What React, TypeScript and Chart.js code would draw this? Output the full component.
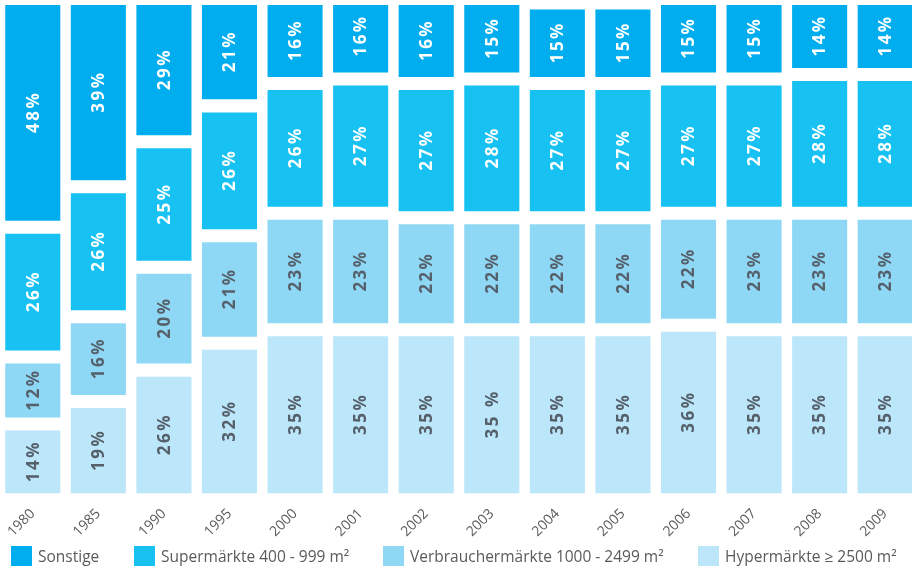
import React, { useEffect, useRef } from "react";
import { Chart, registerables } from "chart.js";

Chart.register(...registerables);

const years = ["1980", "1985", "1990", "1995", "2000", "2001", "2002", "2003", "2004", "2005", "2006", "2007", "2008", "2009"];
const sonstige = [48, 39, 29, 21, 16, 16, 16, 15, 15, 15, 15, 15, 14, 14];
const supermaerkte = [26, 26, 25, 26, 26, 27, 27, 28, 27, 27, 27, 27, 28, 28];
const verbrauchermaerkte = [12, 16, 20, 21, 23, 23, 22, 22, 22, 22, 22, 23, 23, 23];
const hypermaerkte = [14, 19, 26, 32, 35, 35, 35, 35, 35, 35, 36, 35, 35, 35];
// the source prints one label with a space before the percent sign
const hyperLabelSeparators = ["", "", "", "", "", "", "", " ", "", "", "", "", "", ""];

const seriesLabels = ["Sonstige", "Supermärkte 400 - 999 m²", "Verbrauchermärkte 1000 - 2499 m²", "Hypermärkte ≥ 2500 m²"];
const seriesColors = ["#00aeef", "#17c2f2", "#8ed8f6", "#bce6f9"];
const labelColors = ["#ffffff", "#ffffff", "#56606a", "#56606a"];

const GAP = 2.9; // gap between segments, in value units

export default function App() {
  const ref = useRef<HTMLCanvasElement>(null);
  useEffect(() => {
    const bottomUp = [hypermaerkte, verbrauchermaerkte, supermaerkte, sonstige];
    const ranges: [number, number][][] = bottomUp.map(() => []);
    years.forEach((_, i) => {
      let cum = 0;
      bottomUp.forEach((arr, s) => {
        const lo = cum + s * GAP;
        ranges[s].push([lo, lo + arr[i]]);
        cum += arr[i];
      });
    });
    const values = [sonstige, supermaerkte, verbrauchermaerkte, hypermaerkte];
    const datasets = [3, 2, 1, 0].map((s, k) => ({
      label: seriesLabels[k],
      data: ranges[s],
      backgroundColor: seriesColors[k],
      borderWidth: 0,
      categoryPercentage: 1,
      barPercentage: 0.84,
    }));

    const labelPlugin = {
      id: "segLabels",
      afterDatasetsDraw(chart: any) {
        const ctx = chart.ctx;
        chart.data.datasets.forEach((_: any, di: number) => {
          const meta = chart.getDatasetMeta(di);
          meta.data.forEach((el: any, i: number) => {
            const cy = (el.y + el.base) / 2;
            const sep = di === 3 ? hyperLabelSeparators[i] : "";
            ctx.save();
            ctx.translate(el.x, cy);
            ctx.rotate(-Math.PI / 2);
            ctx.font = "bold 17px 'Open Sans'";
            (ctx as any).letterSpacing = "2.5px";
            ctx.fillStyle = labelColors[di];
            ctx.textAlign = "center";
            ctx.textBaseline = "middle";
            ctx.fillText(values[di][i] + sep + "%", 1, 1);
            ctx.restore();
          });
        });
      },
    };

    const chart = new Chart(ref.current!, {
      type: "bar",
      data: { labels: years, datasets },
      options: {
        animation: false,
        responsive: false,
        layout: { padding: { top: 5, bottom: 26, left: 0, right: 0 } },
        plugins: { legend: { display: false }, tooltip: { enabled: false } },
        scales: {
          x: {
            stacked: true,
            grid: { display: false },
            border: { display: false },
            ticks: {
              minRotation: 45,
              maxRotation: 45,
              color: "#5a5a5a",
              font: { family: "'Open Sans'", size: 14 },
              padding: 4,
            },
          },
          y: {
            display: false,
            stacked: false,
            min: 0,
            max: 100 + 3 * GAP,
          },
        },
      },
      plugins: [labelPlugin],
    });
    return () => chart.destroy();
  }, []);

  const legendX = [11, 134, 383, 698];
  return (
    <div style={{ position: "fixed", left: 0, top: 0, width: 912, height: 570, overflow: "hidden", background: "#fff" }}>
      <canvas ref={ref} width={918} height={570} style={{ position: "absolute", left: 0, top: 0 }} />
      {seriesLabels.map((l, k) => (
        <div key={l} style={{ position: "absolute", left: legendX[k], top: 546, display: "flex", alignItems: "center", fontFamily: "'Open Sans'", fontSize: 15.5, color: "#5a5a5a", whiteSpace: "nowrap" }}>
          <span style={{ display: "inline-block", width: 21, height: 20, background: seriesColors[k], marginRight: 6 }} />
          <span style={{ lineHeight: "20px" }}>{l}</span>
        </div>
      ))}
    </div>
  );
}
